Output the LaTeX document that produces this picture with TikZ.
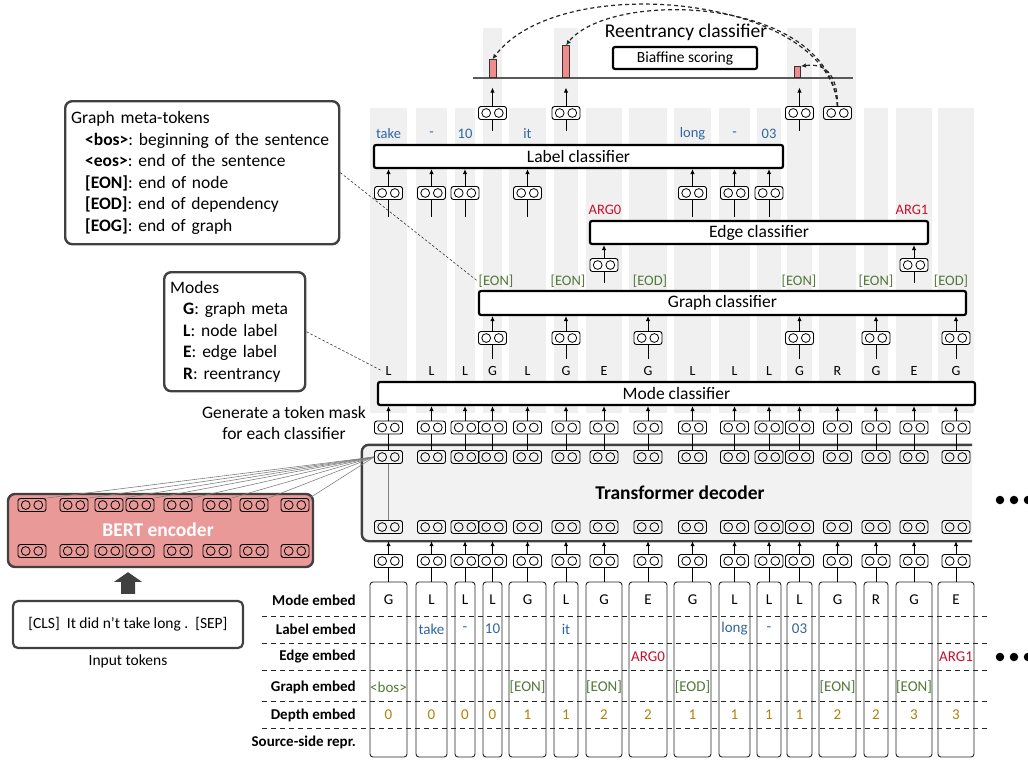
\documentclass[tikz,border=0pt]{standalone}
\usepackage{fontspec}
\setmainfont{Carlito}
\usetikzlibrary{arrows.meta,calc}

\definecolor{stripc}{RGB}{240,240,240}
\definecolor{decfill}{RGB}{242,242,242}
\definecolor{dkgrey}{RGB}{64,64,64}
\definecolor{bertfill}{RGB}{234,153,153}
\definecolor{barfill}{RGB}{240,140,140}
\definecolor{lblue}{RGB}{47,102,160}
\definecolor{ggreen}{RGB}{84,120,56}
\definecolor{ered}{RGB}{200,16,46}
\definecolor{dgold}{RGB}{175,130,10}
\definecolor{attn}{RGB}{128,128,128}

\newcommand\fs[2]{\fontsize{#1}{#2}\selectfont}

\begin{document}
\frenchspacing
\begin{tikzpicture}[x=1pt,y=-1pt,
  tok/.style={draw=black, line width=0.9pt, rounded corners=2.5pt,
    minimum width=28pt, minimum height=13pt, inner sep=0pt, fill=white,
    path picture={\draw[line width=0.8pt]
      ([xshift=-6.3pt]path picture bounding box.center) circle[radius=4.4pt]
      ([xshift=6.3pt]path picture bounding box.center) circle[radius=4.4pt];}},
  arr/.style={-{Latex[length=5pt,width=4.5pt]}, line width=1pt},
  ln/.style={line width=1pt},
  clf/.style={draw=black, line width=2.2pt, rounded corners=2pt, fill=white,
    inner sep=0pt, font=\fs{17.5}{20}},
  infobox/.style={draw=dkgrey, line width=2.4pt, rounded corners=7pt, fill=white,
    align=left, anchor=north west, inner xsep=6pt, font=\fs{17.5}{21.5}},
  colbox/.style={draw=black!85, line width=0.9pt, rounded corners=3pt, fill=white,
    inner sep=0pt},
  cell/.style={font=\fs{15}{18}, inner sep=1pt},
  rowlab/.style={font=\fs{15}{17}\bfseries, anchor=east, inner sep=1pt},
  trule/.style={dash pattern=on 5pt off 4pt, line width=0.9pt, draw=black!85},
  mlab/.style={font=\fs{14}{16}, inner sep=1pt},
  olab/.style={font=\fs{14.5}{17}, inner sep=1pt},
  bar/.style={draw=black!80, line width=0.8pt, fill=barfill, inner sep=0pt,
    minimum width=7pt, anchor=south},
  reen/.style={draw=black!85, line width=1.2pt, dash pattern=on 4pt off 3pt,
    -{Latex[length=5pt,width=4.5pt]}},
  conn/.style={draw=black!80, line width=0.6pt, dash pattern=on 2.5pt off 2pt},
  attnline/.style={draw=attn, line width=0.6pt},
  dot/.style={circle, fill=black, minimum size=8.5pt, inner sep=0pt}
]
\useasboundingbox (0,0) rectangle (1028,760);

% ---------- column geometry, background strips and embedding boxes ----------
\foreach \i/\l/\r/\t in {1/370/407/108, 2/416/447/108, 3/455/475/108, 4/483/502/28,
    5/509/546/108, 6/554/578/28, 7/586/622/108, 8/629/667/108, 9/674/711/108,
    10/719/750/108, 11/757/781/108, 12/787/812/28, 13/819/856/28, 14/864/888/108,
    15/896/932/108, 16/938/974/108}{
  \pgfmathsetmacro\w{\r-\l}
  \coordinate (c\i) at ({(\l+\r)/2},0);
  \fill[stripc] (\l,\t) rectangle (\r,413);
  \node[colbox, minimum width=\w pt, minimum height=175pt] (col\i)
    at ({(\l+\r)/2},669.5) {};
}

% ---------- decoder ----------
\node[fill=decfill, rounded corners=7pt, minimum width=610pt, minimum height=96pt,
  inner sep=0pt] (dec) at (667,493) {};
\draw[dkgrey, line width=2.4pt, rounded corners=7pt]
  (dec.north east) -- (dec.north west) -- (dec.south west) -- (dec.south east);
\node[font=\fs{19.5}{22}\bfseries] (dectitle) at (680,493) {Transformer decoder};

% ---------- classifiers ----------
\node[clf, minimum width=597pt, minimum height=23pt] (modec) at (676.5,393.5) {Mode classifier};
\node[clf, minimum width=487pt, minimum height=24pt] (gc) at (722.5,303) {Graph classifier};
\node[clf, minimum width=338pt, minimum height=23pt] (ec) at (759,232.5) {Edge classifier};
\node[clf, minimum width=409pt, minimum height=23pt] (lc) at (578.5,156.5) {Label classifier};
\node[clf, font=\fs{15.5}{18}, minimum width=144pt, minimum height=22pt] (bia)
  at (685,58) {Biaffine scoring};
\node[font=\fs{19.5}{22}] (rtitle) at (686,32) {Reentrancy classifier};

% ---------- per-position vectors through decoder ----------
\foreach \i in {1,...,16}{
  \node[tok] (e\i) at ($(c\i)+(0,561)$) {};
  \node[tok, fill=none] (db\i) at ($(c\i)+(0,527)$) {};
  \node[tok, fill=none] (dt\i) at ($(c\i)+(0,457)$) {};
  \node[tok] (m\i) at ($(c\i)+(0,427.5)$) {};
  \draw[ln] (col\i.north) -- (e\i.south);
  \draw[arr] (e\i.north) -- (e\i.north |- dec.south);
  \draw[ln] (dt\i.north) -- (m\i.south);
  \draw[arr] (m\i.north) -- (m\i.north |- modec.south);
}
\draw[attnline] (dt1.south) -- (db1.north);

% predicted modes
\foreach \i/\t in {1/L,2/L,3/L,4/G,5/L,6/G,7/E,8/G,9/L,10/L,11/L,12/G,13/R,14/G,15/E,16/G}
  \node[mlab] (ml\i) at ($(c\i)+(0,371)$) {\t};

% graph classifier inputs / outputs
\foreach \i in {4,6,8,12,14,16}{
  \node[tok] (g\i) at ($(c\i)+(0,338)$) {};
  \draw[arr] (g\i.north) -- (g\i.north |- gc.south);
  \draw[ln] (g\i.south) -- ++(0,14);
}
\foreach \i/\x/\t in {4/496/[EON], 6/568/[EON], 8/650/[EOD], 12/799/[EON],
    14/876/[EON], 16/951/[EOD]}
  \node[olab, text=ggreen] (gl\i) at (\x,281) {\t};

% edge classifier inputs / outputs
\foreach \i in {7,15}{
  \node[tok] (ed\i) at ($(c\i)+(0,265)$) {};
  \draw[arr] (ed\i.north) -- (ed\i.north |- ec.south);
  \draw[ln] (ed\i.south) -- ++(0,11);
}
\node[olab, text=ered] (el7) at (605,210) {ARG0};
\node[olab, text=ered] (el15) at (912,210) {ARG1};

% label classifier inputs / outputs
\foreach \i in {1,2,3,5,9,10,11}{
  \node[tok] (lb\i) at ($(c\i)+(0,193)$) {};
  \draw[arr] (lb\i.north) -- (lb\i.north |- lc.south);
  \draw[ln] (lb\i.south) -- ++(0,17);
}
\foreach \i/\t in {1/take, 2/-, 3/10, 5/it, 9/long, 10/-, 11/03}
  \node[olab, text=lblue] (ll\i) at ($(c\i)+(0,134)$) {\t};

% reentrancy classifier
\draw[line width=1.5pt, draw=black!65] (473,78) -- (853,78);
\node[bar, minimum height=18pt] (b4) at ($(c4)+(0,78)$) {};
\node[bar, minimum height=32pt] (b6) at ($(c6)+(0,78)$) {};
\node[bar, minimum height=11pt, minimum width=6pt] (b12) at ($(c12)+(-2,78)$) {};
\foreach \i in {4,6,12,13}
  \node[tok] (r\i) at ($(c\i)+(0,113)$) {};
\foreach \i in {4,6,12}{
  \draw[arr] (r\i.north) -- ++(0,-18.5);
  \draw[ln] (r\i.south) -- ++(0,11);
}
\draw[reen] (r13.north) .. controls +(-8,-111) and +(67,-90) .. (b4.north);
\draw[reen] (r13.north) .. controls +(-8,-111) and +(44,-56) .. (b6.north);
\draw[reen] (r13.north) .. controls +(0,-35) and +(22,-3) .. (b12.north east);

% ---------- legends ----------
\node[infobox, text width=262pt, minimum height=143pt] (meta) at (64,100) {%
  Graph meta-tokens\\
  \hspace*{14pt}\textbf{<bos>}: beginning of the sentence\\
  \hspace*{14pt}\textbf{<eos>}: end of the sentence\\
  \hspace*{14pt}\textbf{[EON]}: end of node\\
  \hspace*{14pt}\textbf{[EOD]}: end of dependency\\
  \hspace*{14pt}\textbf{[EOG]}: end of graph};
\node[infobox, text width=129pt, minimum height=119pt] (modes) at (163,271) {%
  Modes\\
  \hspace*{13pt}\textbf{G}: graph meta\\
  \hspace*{13pt}\textbf{L}: node label\\
  \hspace*{13pt}\textbf{E}: edge label\\
  \hspace*{13pt}\textbf{R}: reentrancy};
\draw[conn] (meta.east) -- (gl4.west);
\draw[conn] (modes.east) -- ([xshift=-2pt]ml1.west);
\node[font=\fs{17.5}{21}, align=center] (masknote) at (284,422.5)
  {Generate a token mask\\for each classifier};

% ---------- encoder side ----------
\node[draw=dkgrey, line width=2.4pt, rounded corners=7pt, fill=bertfill,
  minimum width=305pt, minimum height=73pt, inner sep=0pt] (bert) at (160.5,530.5) {};
\node[font=\fs{19.5}{22}\bfseries, text=white] (berttitle) at (158,530) {BERT encoder};
\foreach \i/\x in {1/32,2/74,3/109,4/140,5/178,6/217,7/254,8/295}{
  \node[tok, fill=none] (bt\i) at (\x,505) {};
  \node[tok, fill=none] (bb\i) at (\x,551) {};
  \draw[attnline] (bt\i.north east) -- (dt1.west);
}
\node[draw=dkgrey, line width=2.2pt, rounded corners=5pt, fill=white,
  minimum width=230pt, minimum height=47pt, font=\fs{15.5}{18}] (inp) at (128,624.5)
  {[CLS]\ \ It did n't take long .\ \ [SEP]};
\fill[dkgrey] ($(inp.north)+(-7,-6)$) -- ++(0,-12) -- ++(-7,0) -- ($(bert.south)+(-32.5,4)$)
  -- ($(inp.north)+(14,-18)$) -- ++(-7,0) -- ++(0,12) -- cycle;
\node[font=\fs{15.5}{18}] (inplab) at (128,661) {Input tokens};

% ---------- embedding table ----------
\foreach \y in {616,643,670,701,728}
  \draw[trule] (262,\y) -- (988,\y);
\foreach \n/\y/\t in {1/600/Mode embed, 2/629/Label embed, 3/657/Edge embed,
    4/687/Graph embed, 5/715/Depth embed, 6/742/Source-side repr.}
  \node[rowlab] (rl\n) at (357,\y) {\t};
\foreach \i/\t in {1/G,2/L,3/L,4/L,5/G,6/L,7/G,8/E,9/G,10/L,11/L,12/L,13/G,14/R,15/G,16/E}
  \node[cell] (me\i) at ($(c\i)+(0,600)$) {\t};
\foreach \i/\t in {2/take,3/-,4/10,6/it,10/long,11/-,12/03}
  \node[cell, text=lblue] (le\i) at ($(c\i)+(0,629)$) {\t};
\foreach \i/\t in {8/ARG0,16/ARG1}
  \node[cell, text=ered] (ee\i) at ($(c\i)+(0,657)$) {\t};
\foreach \i/\t in {1/<bos>,5/[EON],7/[EON],9/[EOD],13/[EON],15/[EON]}
  \node[cell, text=ggreen] (ge\i) at ($(c\i)+(0,687)$) {\t};
\foreach \i/\t in {1/0,2/0,3/0,4/0,5/1,6/1,7/2,8/2,9/1,10/1,11/1,12/1,13/2,14/2,15/3,16/3}
  \node[cell, text=dgold] (de\i) at ($(c\i)+(0,715)$) {\t};

% ---------- continuation dots ----------
\foreach \k/\x in {1/1000,2/1014,3/1028}{
  \node[dot] (dtop\k) at (\x,500) {};
  \node[dot] (dbot\k) at (\x,657) {};
}
\end{tikzpicture}
\end{document}
